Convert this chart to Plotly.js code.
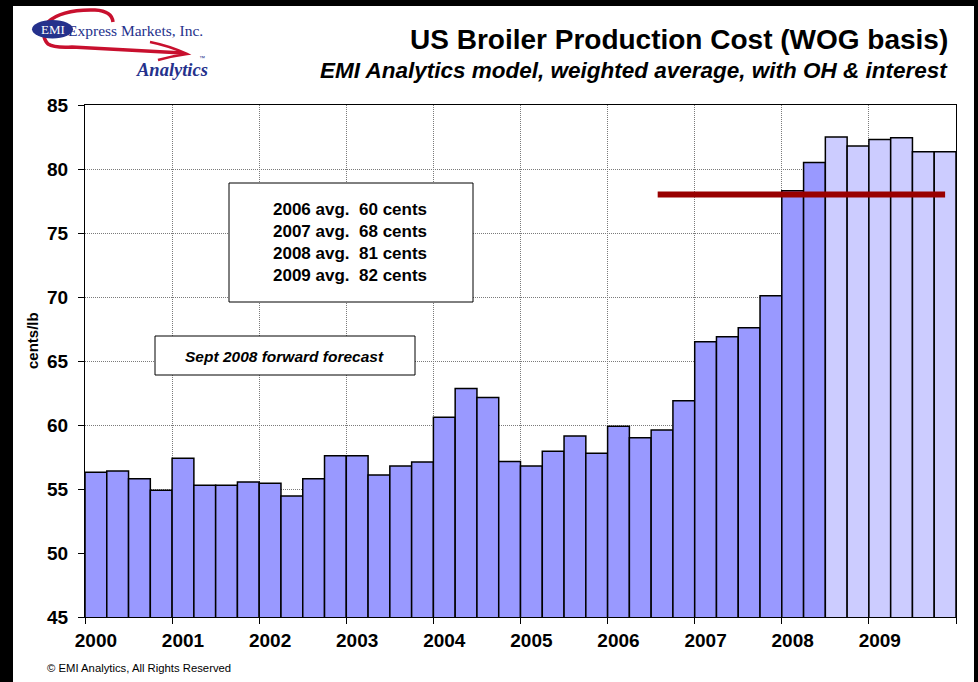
<!DOCTYPE html>
<html>
<head>
<meta charset="utf-8">
<script src="https://cdn.plot.ly/plotly-3.0.1.min.js"></script>
<style>
html,body{margin:0;padding:0;background:#000;width:978px;height:682px;overflow:hidden;}
#chart{position:absolute;left:13px;top:6px;width:961px;height:676px;background:#fff;}
</style>
</head>
<body>
<div id="chart"></div>
<script>
// ---- data ----
const years = ['2000','2001','2002','2003','2004','2005','2006','2007','2008','2009'];
const quarters = ['Q1','Q2','Q3','Q4'];
const costCents = [
  56.3, 56.4, 55.8, 54.9,
  57.4, 55.3, 55.3, 55.55,
  55.45, 54.45, 55.8, 57.6,
  57.6, 56.1, 56.8, 57.1,
  60.6, 62.85, 62.15, 57.15,
  56.8, 57.95, 59.15, 57.8,
  59.9, 59.0, 59.6, 61.9,
  66.5, 66.9, 67.6, 70.1,
  78.3, 80.5, 82.5, 81.8,
  82.3, 82.45, 81.35, 81.35
];
const forecastStartIndex = 34; // 2008 Q3 onward = Sept 2008 forecast
const refLineX = [26.3, 39.5];
const refLineY = [78, 78];
const avgLines = ['2006 avg.\u00a0 60 cents','2007 avg.\u00a0 68 cents','2008 avg.\u00a0 81 cents','2009 avg.\u00a0 82 cents'];

// ---- derived ----
const labels = [];
years.forEach(y => quarters.forEach(q => labels.push(y + ' ' + q)));
const xPos = costCents.map((v, i) => i + 0.5);
const barColors = costCents.map((v, i) => i >= forecastStartIndex ? '#CCCCFF' : '#9999FF');
const yearBoundaries = years.map((y, i) => i * 4).concat([years.length * 4]);
const yearLabelPos = years.map((y, i) => i * 4 + 0.5);

// page pixel -> paper coordinates (plot area 85..956 x 105..617 in page pixels)
const PX0 = 85, PX1 = 956, PY0 = 105, PY1 = 617;
const px = x => (x - PX0) / (PX1 - PX0);
const py = y => (PY1 - y) / (PY1 - PY0);
const pathOf = pts => pts.map(s => s[0] + ' ' + s.slice(1).map(p => px(p[0]).toFixed(5) + ',' + py(p[1]).toFixed(5)).join(' ')).join(' ');

const FONT = 'Liberation Sans, Arial, sans-serif';
const SERIF = 'Liberation Serif, Times New Roman, serif';
const NAVY = '#25318C';
const RED = '#C8102E';

const traces = [
  {
    type: 'bar', x: xPos, y: costCents, hovertext: labels, hoverinfo: 'text+y', textposition: 'none',
    width: 1, xaxis: 'x', yaxis: 'y',
    marker: {color: barColors, line: {color: '#000', width: 1.5}},
    showlegend: false
  },
  {
    type: 'scatter', mode: 'lines', x: refLineX, y: refLineY, xaxis: 'x2', yaxis: 'y',
    line: {color: '#990000', width: 6}, showlegend: false, hoverinfo: 'skip'
  }
];

const shapes = [
  {type: 'rect', xref: 'paper', yref: 'paper', x0: px(229), x1: px(473), y0: py(183), y1: py(302),
   fillcolor: '#fff', line: {color: '#000', width: 1}, layer: 'above'},
  {type: 'rect', xref: 'paper', yref: 'paper', x0: px(155), x1: px(415), y0: py(336), y1: py(375),
   fillcolor: '#fff', line: {color: '#000', width: 1}, layer: 'above'},
  // logo swoosh (drawn first so the ellipse sits over it)
  {type: 'path', xref: 'paper', yref: 'paper', layer: 'above',
   path: pathOf([['M', [113, 22]], ['Q', [112, 11], [95, 10]], ['Q', [62, 9], [48, 22]], ['Q', [40, 36], [48, 44]],
                 ['Q', [54, 48], [72, 47]], ['L', [183, 53]]]),
   line: {color: RED, width: 3.5}},
  {type: 'path', xref: 'paper', yref: 'paper', layer: 'above',
   path: pathOf([['M', [150, 42]], ['Q', [170, 46], [187, 54]], ['Q', [172, 56], [158, 60]]]),
   line: {color: RED, width: 2.5}},
  // logo ellipse
  {type: 'circle', xref: 'paper', yref: 'paper', x0: px(32), x1: px(73), y0: py(20), y1: py(38.5),
   fillcolor: NAVY, line: {color: NAVY, width: 0}, layer: 'above'}
];

const annotations = [
  {xref: 'paper', yref: 'paper', x: px(950), y: py(39), xanchor: 'right', yanchor: 'middle', showarrow: false,
   text: '<b>US Broiler Production Cost (WOG basis)</b>', font: {family: FONT, size: 28, color: '#000'}},
  {xref: 'paper', yref: 'paper', x: px(950), y: py(70), xanchor: 'right', yanchor: 'middle', showarrow: false,
   text: '<b><i>EMI Analytics model, weighted average, with OH &amp; interest</i></b>', font: {family: FONT, size: 22.5, color: '#000'}},
  {xref: 'paper', yref: 'paper', x: px(350), y: py(242), xanchor: 'center', yanchor: 'middle', showarrow: false,
   text: '<b>' + avgLines.join('<br>') + '</b>', align: 'center', font: {family: FONT, size: 17, color: '#000'}},
  {xref: 'paper', yref: 'paper', x: px(284), y: py(356), xanchor: 'center', yanchor: 'middle', showarrow: false,
   text: '<b><i>Sept 2008 forward forecast</i></b>', font: {family: FONT, size: 15.5, color: '#000'}},
  {xref: 'paper', yref: 'paper', x: px(45), y: py(668), xanchor: 'left', yanchor: 'middle', showarrow: false,
   text: '\u00a9 EMI Analytics, All Rights Reserved', font: {family: FONT, size: 11.3, color: '#000'}},
  // y-axis title
  {xref: 'paper', yref: 'paper', x: px(32), y: py(341), xanchor: 'center', yanchor: 'middle', showarrow: false,
   textangle: -90, text: '<b>cents/lb</b>', font: {family: FONT, size: 15, color: '#000'}},
  // logo texts
  {xref: 'paper', yref: 'paper', x: px(52.5), y: py(29.5), xanchor: 'center', yanchor: 'middle', showarrow: false,
   text: 'EMI', font: {family: SERIF, size: 13, color: '#fff'}},
  {xref: 'paper', yref: 'paper', x: px(66), y: py(30), xanchor: 'left', yanchor: 'middle', showarrow: false,
   text: 'Express Markets, Inc.', font: {family: SERIF, size: 15.5, color: NAVY}},
  {xref: 'paper', yref: 'paper', x: px(210), y: py(70), xanchor: 'right', yanchor: 'middle', showarrow: false,
   text: '<b><i>Analytics</i></b>', font: {family: SERIF, size: 18.5, color: NAVY}},
  {xref: 'paper', yref: 'paper', x: px(202), y: py(58), xanchor: 'center', yanchor: 'middle', showarrow: false,
   text: '\u2122', font: {family: FONT, size: 6, color: NAVY}}
];

const layout = {
  width: 961, height: 676,
  margin: {l: 72, r: 18, t: 99, b: 65, pad: 0},
  paper_bgcolor: '#fff', plot_bgcolor: '#fff',
  bargap: 0, showlegend: false,
  font: {family: FONT, color: '#000'},
  xaxis: {
    range: [0, 40], tickmode: 'array', tickvals: yearBoundaries, ticktext: yearBoundaries.map(() => ''),
    ticks: 'outside', ticklen: 6, tickwidth: 1, tickcolor: '#000',
    showgrid: true, gridcolor: '#7a7a7a', griddash: '1px,1px', gridwidth: 1,
    showline: true, linecolor: '#000', linewidth: 1, mirror: true, zeroline: false, fixedrange: true
  },
  xaxis2: {
    overlaying: 'x', anchor: 'y', side: 'bottom', range: [0, 40],
    tickmode: 'array', tickvals: yearLabelPos, ticktext: years,
    ticks: 'outside', ticklen: 6, tickcolor: 'rgba(0,0,0,0)',
    tickfont: {family: FONT, size: 19, color: '#000', weight: 'bold'},
    showgrid: false, showline: false, zeroline: false, fixedrange: true
  },
  yaxis: {
    range: [45, 85], tickmode: 'linear', tick0: 45, dtick: 5,
    ticks: 'outside', ticklen: 6, tickwidth: 1, tickcolor: '#000', ticklabelstandoff: 6,
    tickfont: {family: FONT, size: 19, color: '#000', weight: 'bold'},
    showgrid: true, gridcolor: '#7a7a7a', griddash: '1px,1px', gridwidth: 1,
    showline: true, linecolor: '#000', linewidth: 1, mirror: true, zeroline: false, fixedrange: true
  },
  shapes: shapes,
  annotations: annotations
};

Plotly.newPlot('chart', traces, layout, {displayModeBar: false, staticPlot: true});
</script>
</body>
</html>
